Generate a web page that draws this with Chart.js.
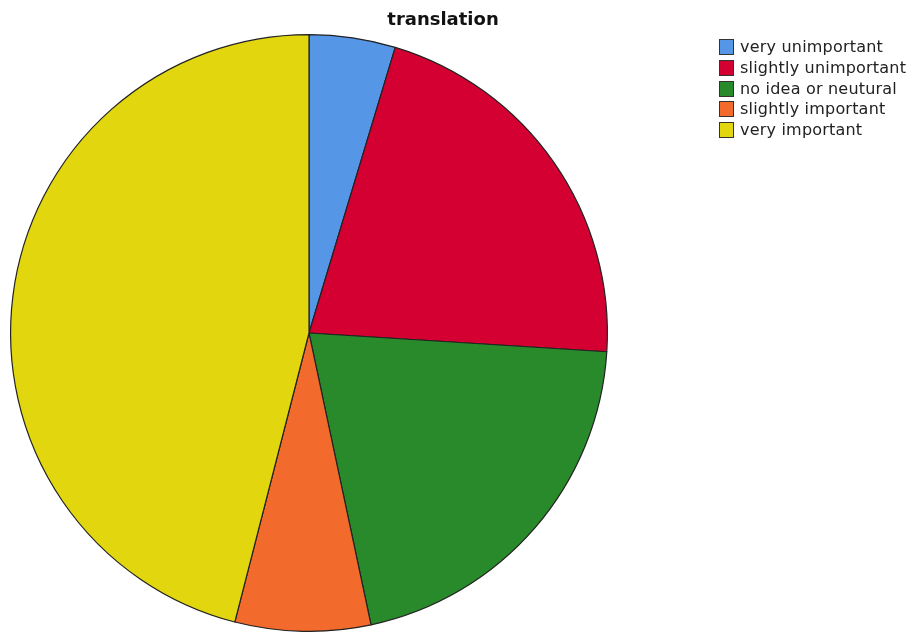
<!DOCTYPE html>
<html lang="en">
<head>
<meta charset="UTF-8">
<title>translation</title>
<script src="https://cdn.jsdelivr.net/npm/chart.js"></script>
<style>
    html, body {
        margin: 0;
        padding: 0;
        background: #ffffff;
    }
    #wrap {
        position: relative;
        width: 914px;
        height: 632px;
        overflow: hidden;
    }
    #title {
        position: absolute;
        left: 343px;
        width: 200px;
        top: 8px;
        text-align: center;
        font: bold 18px "DejaVu Sans", sans-serif;
        color: #111;
    }
    #legend {
        position: absolute;
        left: 719px;
        top: 38px;
        font: 16px "DejaVu Sans", sans-serif;
        letter-spacing: 0.2px;
        color: #222;
    }
    .item {
        height: 20.8px;
        line-height: 18px;
        white-space: nowrap;
    }
    .swatch {
        display: inline-block;
        width: 15px;
        height: 16px;
        box-sizing: border-box;
        border: 1px solid #333;
        vertical-align: -3px;
        margin-right: 6px;
    }
</style>
</head>
<body>
<div id="wrap">
    <canvas id="pie" width="914" height="632"></canvas>
    <div id="title">translation</div>
    <div id="legend"></div>
</div>
<script>
    // Ответы по категориям (число респондентов)
    const categories = ['very unimportant', 'slightly unimportant', 'no idea or neutural', 'slightly important', 'very important'];
    const counts = [7, 32, 31, 11, 69];
    const colors = ['#5597e6', '#d50032', '#288a2a', '#f26b2c', '#e2d70f'];

    // Легенда справа
    const legend = document.getElementById('legend');
    categories.forEach((name, i) => {
        const row = document.createElement('div');
        row.className = 'item';
        const box = document.createElement('span');
        box.className = 'swatch';
        box.style.background = colors[i];
        row.appendChild(box);
        row.appendChild(document.createTextNode(name));
        legend.appendChild(row);
    });

    const ctx = document.getElementById('pie').getContext('2d');
    new Chart(ctx, {
        type: 'pie',
        data: {
            labels: categories,
            datasets: [{
                data: counts,
                backgroundColor: colors,
                borderColor: '#222222',
                borderWidth: 1.2,
            }]
        },
        options: {
            responsive: false,
            animation: false,
            layout: {
                padding: { left: 10, top: 34, right: 306, bottom: 0 }
            },
            plugins: {
                legend: { display: false },
                title: { display: false },
                tooltip: { enabled: false }
            }
        }
    });
</script>
</body>
</html>
